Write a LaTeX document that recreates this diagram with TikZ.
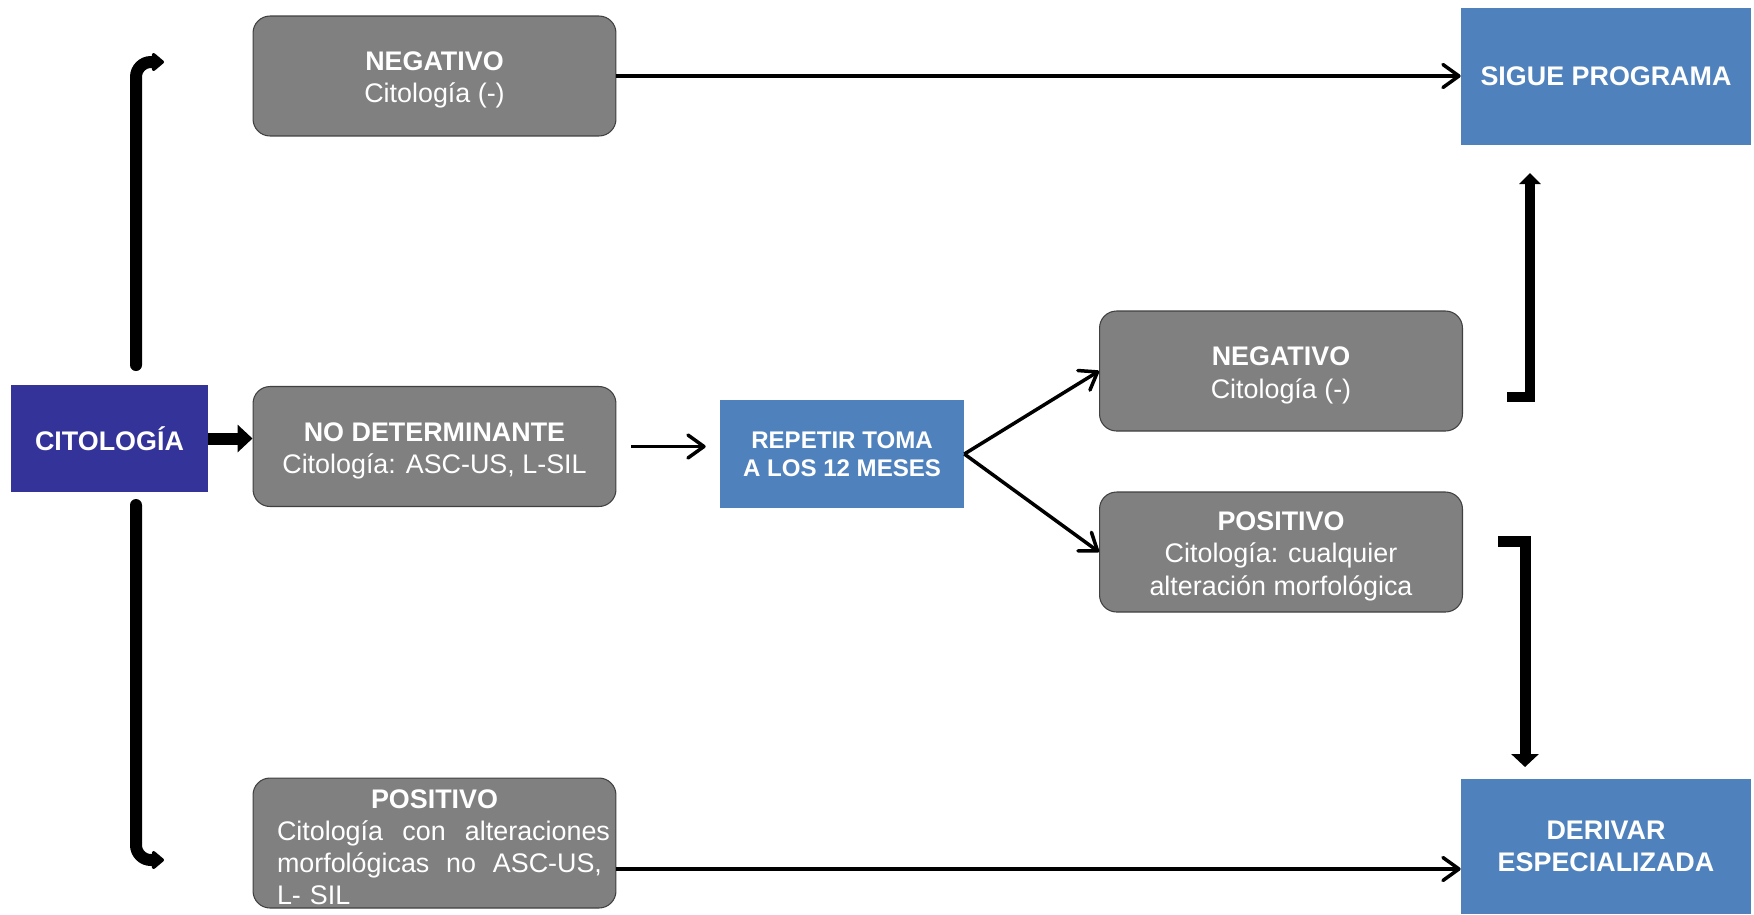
\documentclass[tikz,border=0pt]{standalone}
\usepackage{fontspec}
\setmainfont{Liberation Sans}
\usetikzlibrary{arrows.meta,calc}

\definecolor{grisbox}{RGB}{128,128,128}
\definecolor{azulosc}{RGB}{51,51,153}
\definecolor{azulbox}{RGB}{79,129,189}

\newcommand{\tamtxt}{\fontsize{15.3pt}{18.4pt}\selectfont}
\newcommand{\tamrep}{\fontsize{13.7pt}{16.2pt}\selectfont}
\newcommand{\titulo}[1]{\rule{0pt}{15.5pt}\textbf{#1}}
\newcommand{\lineapos}[2]{\makebox[7.02cm][l]{\hspace{0.36cm}\makebox[#1]{#2}}}

\begin{document}
\begin{tikzpicture}[x=0.02cm,y=-0.02cm,
    resbox/.style={draw=black!75,line width=0.6pt,fill=grisbox,rounded corners=0.34cm,
      text=white,align=center,minimum width=7.26cm,minimum height=2.4cm,font=\tamtxt,inner sep=2pt},
    accbox/.style={fill=azulbox,text=white,align=center,font=\tamtxt\bfseries,inner sep=2pt},
    flecha/.style={line width=0.07cm,-{Straight Barb[length=0.32cm,width=0.46cm,round]}},
    gruesa/.style={line width=0.24cm,-{Triangle[length=0.3cm,width=0.54cm]}},
    curva/.style={line width=0.24cm,line cap=round,rounded corners=0.3cm,
      -{Triangle[length=0.26cm,width=0.42cm,round]}}]
  \useasboundingbox (0,0) rectangle (1754,914);
  \node[fill=azulosc,text=white,font=\tamtxt\bfseries,minimum width=3.94cm,minimum height=2.14cm] (cito) at (109.5,438.5) {CITOLOGÍA};
  \node[resbox] (neg1) at (434.5,76) {\titulo{NEGATIVO}\\Citología (-)};
  \node[resbox] (nodet) at (434.5,446.5) {\titulo{NO DETERMINANTE}\\Citología: ASC-US, L-SIL};
  \node[resbox,minimum height=2.6cm,inner ysep=0pt,text width=7.02cm] (pos1) at (434.5,843) {\titulo{POSITIVO}\\
    \lineapos{6.66cm}{Citología\hfill con\hfill alteraciones}\\
    \lineapos{6.5cm}{morfológicas\hfill no\hfill ASC-US,}\\
    \lineapos{6.66cm}{L- SIL\hfill}};
  \node[accbox,font=\tamrep\bfseries,minimum width=4.88cm,minimum height=2.16cm] (repetir) at (842,454) {REPETIR TOMA\\A LOS 12 MESES};
  \node[resbox] (neg2) at (1281,371) {\titulo{NEGATIVO}\\Citología (-)};
  \node[resbox] (pos2) at (1281,552) {\titulo{POSITIVO}\\Citología: cualquier\\alteración morfológica};
  \node[accbox,minimum width=5.8cm,minimum height=2.74cm] (sigue) at (1606,76.5) {SIGUE PROGRAMA};
  \node[accbox,minimum width=5.8cm,minimum height=2.7cm] (derivar) at (1606,846.5) {DERIVAR\\ESPECIALIZADA};
  % puntos libres de las flechas gruesas
  \coordinate (citoarr) at (136,365);
  \coordinate (negtip) at (164,62);
  \coordinate (citoab) at (136,505);
  \coordinate (postip) at (164,860);
  \coordinate (negpie) at (1507,397);
  \coordinate (siguetip) at (1530,173);
  \coordinate (pospie) at (1498,541);
  \coordinate (derivtip) at (1525,767);
  \draw[gruesa] (cito.east) -- (cito.east -| nodet.west);
  \draw[curva] (citoarr) |- (negtip);
  \draw[curva] (citoab) |- (postip);
  \draw[flecha] (neg1.east) -- (neg1.east -| sigue.west);
  \draw[flecha,shorten <=0.3cm,shorten >=0.28cm] (nodet.east) -- (nodet.east -| repetir.west);
  \draw[flecha] (repetir.east) -- (neg2.west);
  \draw[flecha] (repetir.east) -- (pos2.west);
  \draw[flecha] ([yshift=-0.52cm]pos1.east) -- ([yshift=-0.52cm]pos1.east -| derivar.west);
  \draw[line width=0.21cm,-{Triangle[length=0.22cm,width=0.42cm]}] (negpie) -| (siguetip);
  \draw[line width=0.22cm,-{Triangle[length=0.26cm,width=0.54cm]}] (pospie) -| (derivtip);
\end{tikzpicture}
\end{document}
